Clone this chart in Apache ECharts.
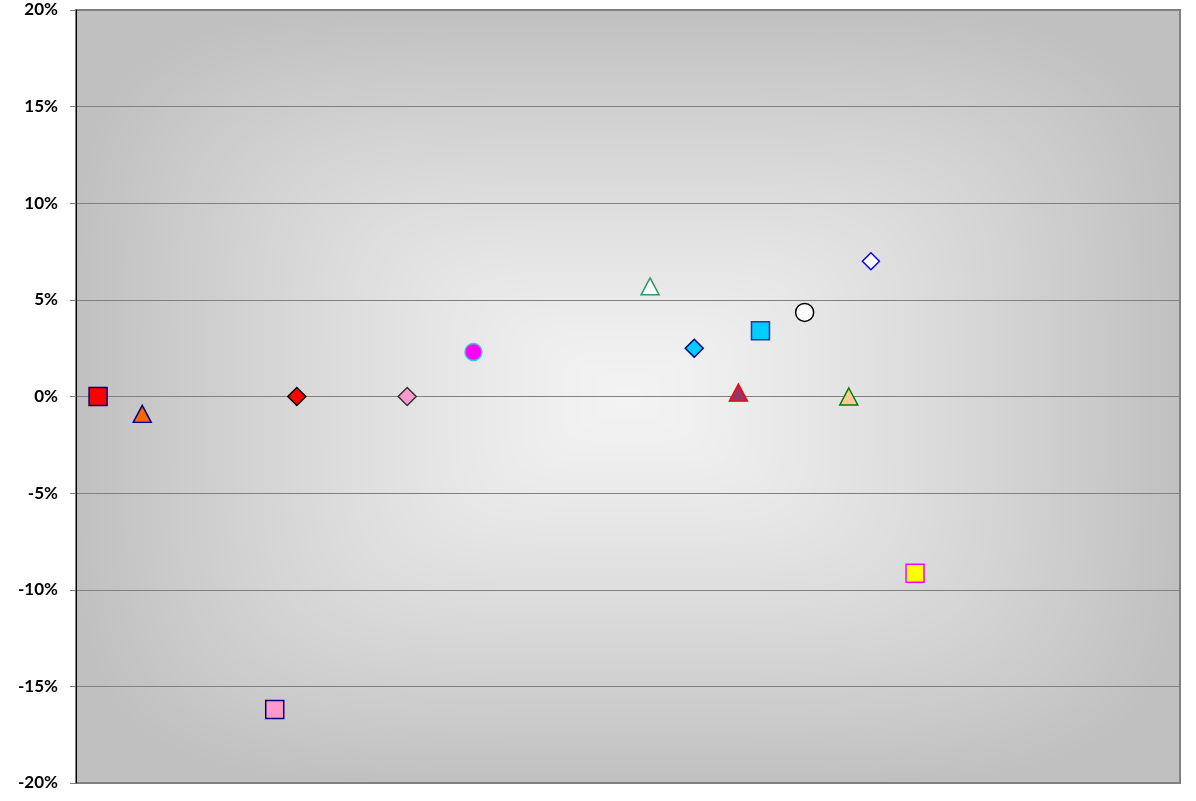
<!DOCTYPE html>
<html>
<head>
<meta charset="utf-8">
<script src="https://cdn.jsdelivr.net/npm/echarts@6/dist/echarts.min.js"></script>
<style>
  html, body { margin: 0; padding: 0; background: #ffffff; }
  #chart { width: 1196px; height: 801px; }
</style>
</head>
<body>
<div id="chart"></div>
<script>
// Point positions along the (unlabelled) horizontal scale and their percentage values
const xValues = [1, 3, 9, 10, 15, 18, 26, 28, 30, 31, 33, 35, 36, 38];
const yValues = [0, -0.9, -16.2, 0, 0, 2.3, 5.7, 2.5, 0.2, 3.4, 4.35, 0, 7.0, -9.15];
const yTicks = [-20, -15, -10, -5, 0, 5, 10, 15, 20];

// Marker look for each point: [symbol, fill, stroke, size]
const markerLook = [
  ['rect', '#ff0000', '#000080', 18],
  ['triangle', '#ff6600', '#000080', [18, 17]],
  ['rect', '#ff99cc', '#000080', 18],
  ['diamond', '#ff0000', '#000000', 18],
  ['diamond', '#ff99cc', '#333333', 18],
  ['circle', '#ff00ff', '#33cccc', 17],
  ['triangle', '#ffffff', '#339966', [18, 17]],
  ['diamond', '#00ccff', '#000080', 18],
  ['triangle', '#993366', '#ff0000', [18, 17]],
  ['rect', '#00ccff', '#333399', 18],
  ['circle', '#ffffff', '#000000', 18],
  ['triangle', '#ffcc99', '#008000', [18, 17]],
  ['diamond', '#ffffff', '#0000ff', 17],
  ['rect', '#ffff00', '#ff00ff', 18]
];

const grid = { left: 76, top: 10, width: 1104, height: 773 };

// Rounded-rectangle "from centre" shading for the plot area
function shadeCanvas(w, h) {
  const c = document.createElement('canvas');
  c.width = w; c.height = h;
  const ctx = c.getContext('2d');
  const img = ctx.createImageData(w, h);
  const inner = 243, outer = 192;
  const cx = w / 2, cy = h / 2;
  for (let y = 0; y < h; y++) {
    for (let x = 0; x < w; x++) {
      const dx = Math.abs(x - cx) / cx;
      const dy = Math.abs(y - cy) / cy;
      let t = Math.pow(Math.pow(dx, 5) + Math.pow(dy, 5), 1 / 5);
      t = Math.min(1, Math.pow(t, 1.25));
      const v = Math.round(inner + (outer - inner) * t);
      const i = (y * w + x) * 4;
      img.data[i] = v; img.data[i + 1] = v; img.data[i + 2] = v; img.data[i + 3] = 255;
    }
  }
  ctx.putImageData(img, 0, 0);
  return c;
}

const chart = echarts.init(document.getElementById('chart'), null, { renderer: 'canvas' });

const series = xValues.map((x, i) => {
  const [symbol, fill, stroke, size] = markerLook[i];
  return {
    type: 'scatter',
    data: [[x, yValues[i]]],
    symbol: symbol,
    symbolSize: size,
    itemStyle: { color: fill, borderColor: stroke, borderWidth: 1.5, opacity: 1 },
    emphasis: { disabled: true },
    z: 5
  };
});

chart.setOption({
  animation: false,
  backgroundColor: '#ffffff',
  graphic: [{
    type: 'image',
    left: grid.left,
    top: grid.top,
    z: -10,
    silent: true,
    style: { image: shadeCanvas(grid.width, grid.height), x: 0, y: 0, width: grid.width, height: grid.height }
  }],
  grid: {
    left: grid.left, top: grid.top, width: grid.width, height: grid.height,
    show: true, borderColor: '#808080', borderWidth: 2, backgroundColor: 'transparent'
  },
  xAxis: {
    type: 'value', min: 0, max: 50, show: false
  },
  yAxis: {
    type: 'value',
    min: yTicks[0], max: yTicks[yTicks.length - 1], interval: 5,
    axisLine: { show: true, onZero: false, lineStyle: { color: '#000000', width: 1 } },
    axisTick: { show: true, length: 6, lineStyle: { color: '#808080' } },
    splitLine: { show: true, lineStyle: { color: '#808080', width: 1 } },
    axisLabel: {
      margin: 18,
      formatter: '{value}%',
      color: '#000000',
      fontFamily: 'Lato',
      fontWeight: 'bold',
      fontSize: 17
    }
  },
  series: series
});
</script>
</body>
</html>
